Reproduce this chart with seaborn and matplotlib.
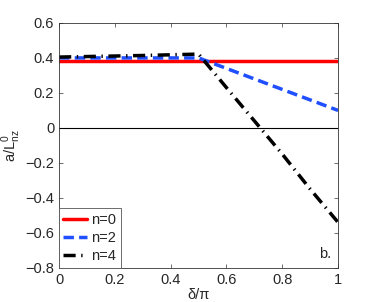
import pandas as pd
import seaborn as sns
import matplotlib
matplotlib.use("Agg")
import matplotlib.pyplot as plt

# values
delta = [0.0, 0.1, 0.2, 0.3, 0.4, 0.5, 0.6, 0.7, 0.8, 0.9, 1.0]
a_n0 = [0.38, 0.38, 0.38, 0.38, 0.38, 0.38, 0.38, 0.38, 0.38, 0.38, 0.38]
a_n2 = [0.40, 0.40, 0.40, 0.40, 0.40, 0.40, 0.34, 0.28, 0.22, 0.16, 0.10]
a_n4 = [0.405, 0.408, 0.411, 0.414, 0.418, 0.422, 0.23, 0.04, -0.15, -0.35, -0.54]
labels = ["n=0", "n=2", "n=4"]

data = pd.DataFrame({
    "delta": delta * 3,
    "a": a_n0 + a_n2 + a_n4,
    "n": [labels[0]] * len(delta) + [labels[1]] * len(delta) + [labels[2]] * len(delta),
})

sns.set_style("white")
plt.rcParams["font.family"] = ["Liberation Sans", "DejaVu Sans"]
plt.rcParams["mathtext.fontset"] = "custom"
plt.rcParams["mathtext.rm"] = "Liberation Sans"
plt.rcParams["font.size"] = 10

fig = plt.figure(figsize=(3.74, 3.02), dpi=100)
ax = fig.add_axes([0.158, 0.113, 0.746, 0.811])

palette = {"n=0": "#ff0000", "n=2": "#1f4fff", "n=4": "#000000"}
dashes = {"n=0": "", "n=2": (3, 1.5), "n=4": (3.5, 1.6, 0.4, 1.6)}
sns.lineplot(data=data, x="delta", y="a", hue="n", style="n",
             palette=palette, dashes=dashes, linewidth=2.5, ax=ax)

ax.axhline(0, color="black", lw=0.8)
ax.set_xlim(0, 1)
ax.set_ylim(-0.8, 0.6)
ax.set_xticks([0, 0.2, 0.4, 0.6, 0.8, 1])
ax.set_xticklabels(["0", "0.2", "0.4", "0.6", "0.8", "1"])
ax.set_yticks([-0.8, -0.6, -0.4, -0.2, 0, 0.2, 0.4, 0.6])
ax.set_yticklabels(["\u22120.8", "\u22120.6", "\u22120.4", "\u22120.2", "0", "0.2", "0.4", "0.6"])
ax.tick_params(direction="in", length=3, width=0.6, top=True, right=True,
               bottom=True, left=True, labelsize=10.5, color="#555555")
for s in ax.spines.values():
    s.set_linewidth(0.6)
    s.set_color("#333333")

ax.set_xlabel("\u03b4/\u03c0", fontsize=10.5, labelpad=1)
ax.set_ylabel(r"a/L$^{\mathrm{0}}_{\mathrm{nz}}$", fontsize=10.5, labelpad=2)
ax.text(0.975, 0.03, "b.", transform=ax.transAxes, ha="right", va="bottom", fontsize=10.5)

leg = ax.legend(loc="lower left", handlelength=1.6, handletextpad=0.3,
                borderaxespad=0.0, fancybox=False, framealpha=1,
                edgecolor="#555555", fontsize=10.5, borderpad=0.3, labelspacing=0.3)
leg.get_frame().set_linewidth(0.6)
leg.set_title(None)

fig.savefig("out.png", dpi=100)
